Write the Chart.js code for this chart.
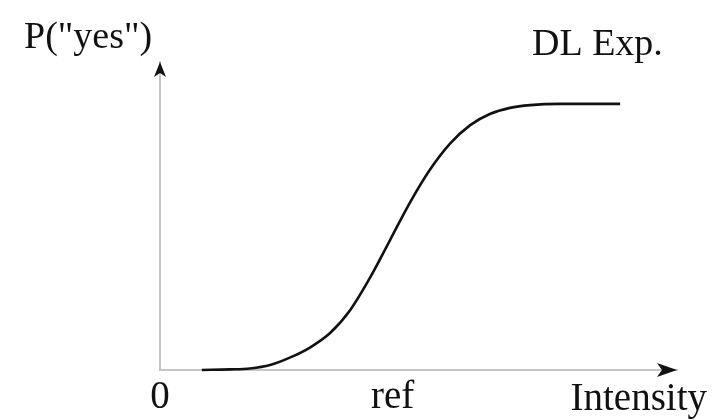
<!DOCTYPE html>
<html>
<head>
<meta charset="utf-8">
<script src="https://cdn.jsdelivr.net/npm/chart.js@4/dist/chart.umd.min.js"></script>
<style>
  html, body { margin: 0; padding: 0; background: #fff; }
  #wrap { width: 724px; height: 420px; }
</style>
</head>
<body>
<div id="wrap"><canvas id="psyChart"></canvas></div>
<script>
// curve (intensity in arbitrary units 0..100, probability 0..1)
const intensity = [8.1, 13.5, 17.4, 21.3, 25.1, 29.0, 32.9, 36.8, 40.6, 44.5, 48.4, 52.2, 56.1, 60.0, 63.8, 67.7, 71.6, 77.4, 89.0];
const pYes      = [0.000, 0.002, 0.005, 0.016, 0.040, 0.073, 0.120, 0.195, 0.299, 0.422, 0.545, 0.650, 0.735, 0.795, 0.831, 0.851, 0.860, 0.864, 0.864];

const xTicks = [0, 45];
const xTickLabels = ['0', 'ref'];
const xTitle = 'Intensity';
const yTitle = 'P("yes")';
const panelTitle = 'DL Exp.';

const serif = '"Liberation Serif", "Times New Roman", serif';

// arrows on the axes + the free text labels
const axisDecor = {
    id: 'axisDecor',
    afterDraw(chart) {
        const ctx = chart.ctx;
        const a = chart.chartArea;
        const x0 = chart.scales.x.getPixelForValue(0);
        const y0 = chart.scales.y.getPixelForValue(0);
        ctx.save();
        ctx.fillStyle = '#111';

        // y arrow
        ctx.beginPath();
        ctx.moveTo(x0, a.top);
        ctx.lineTo(x0 + 6, a.top + 15);
        ctx.lineTo(x0, a.top + 11);
        ctx.lineTo(x0 - 6, a.top + 15);
        ctx.closePath();
        ctx.fill();

        // x arrow
        ctx.beginPath();
        ctx.moveTo(a.right, y0);
        ctx.lineTo(a.right - 20, y0 - 7);
        ctx.lineTo(a.right - 15, y0);
        ctx.lineTo(a.right - 20, y0 + 7);
        ctx.closePath();
        ctx.fill();

        ctx.textBaseline = 'alphabetic';
        ctx.font = '38px ' + serif;
        ctx.textAlign = 'left';
        ctx.fillText(yTitle, 24, 48);
        ctx.fillText(panelTitle, 532, 55);

        ctx.font = '39px ' + serif;
        ctx.textAlign = 'right';
        ctx.fillText(xTitle, a.right + 30, 410);
        ctx.restore();
    }
};

new Chart(document.getElementById('psyChart'), {
    type: 'line',
    data: {
        datasets: [{
            data: intensity.map((v, i) => ({ x: v, y: pYes[i] })),
            borderColor: '#111',
            borderWidth: 2.6,
            pointRadius: 0,
            fill: false,
            cubicInterpolationMode: 'monotone',
            clip: false
        }]
    },
    options: {
        responsive: true,
        maintainAspectRatio: false,
        animation: false,
        layout: { padding: { left: 160, right: 47, top: 62, bottom: 0 } },
        plugins: { legend: { display: false }, tooltip: { enabled: false } },
        scales: {
            x: {
                type: 'linear',
                min: 0,
                max: 100,
                afterBuildTicks: s => { s.ticks = xTicks.map(v => ({ value: v })); },
                afterFit: s => { s.height = 50; },
                grid: { display: false, drawTicks: false },
                border: { display: true, color: '#c6c6c6', width: 2 },
                ticks: {
                    callback: (v) => xTickLabels[xTicks.indexOf(v)],
                    color: '#111',
                    font: { family: serif, size: 39, lineHeight: 1 },
                    padding: 8,
                    maxRotation: 0,
                    autoSkip: false
                }
            },
            y: {
                min: 0,
                max: 1,
                grid: { display: false, drawTicks: false },
                border: { display: true, color: '#c6c6c6', width: 2 },
                ticks: { display: false }
            }
        }
    },
    plugins: [axisDecor]
});
</script>
</body>
</html>
